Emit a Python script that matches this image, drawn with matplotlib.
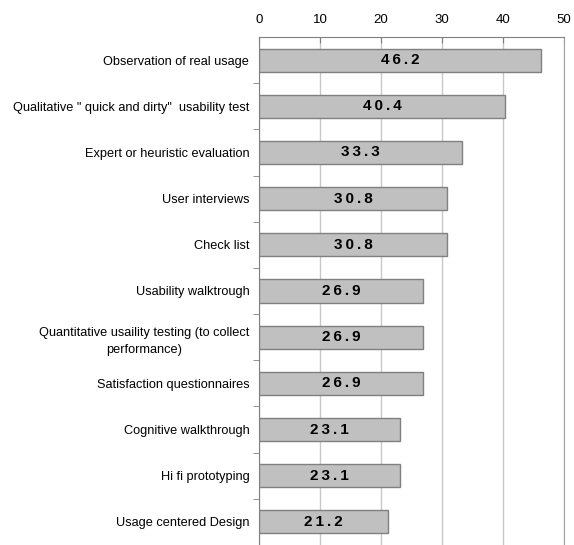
import matplotlib.pyplot as plt
import numpy as np

plt.rcParams['font.family'] = ['Liberation Sans', 'DejaVu Sans']

#Categories and percentages
methods = ["Observation of real usage",
           'Qualitative " quick and dirty"  usability test',
           "Expert or heuristic evaluation",
           "User interviews",
           "Check list",
           "Usability walktrough",
           "Quantitative usaility testing (to collect\nperformance)",
           "Satisfaction questionnaires",
           "Cognitive walkthrough",
           "Hi fi prototyping",
           "Usage centered Design"]
scores = [46.2, 40.4, 33.3, 30.8, 30.8, 26.9, 26.9, 26.9, 23.1, 23.1, 21.2]
xticks = [0, 10, 20, 30, 40, 50]

fig = plt.figure(figsize=(5.74, 5.45), dpi=100)
ax = fig.add_axes([259/574, 0.0, (564-259)/574, 1 - 37/545])

ypos = np.arange(len(methods))
ax.barh(ypos, scores, height=0.5, color='#c0c0c0', edgecolor='#808080',
        linewidth=1, zorder=3)

for y, v in zip(ypos, scores):
    ax.text(v/2, y, "\u2009".join(f"{v:.1f}"), ha='center', va='center',
            fontsize=11, fontweight='bold', color='black', zorder=4)

ax.set_xlim(0, 50)
ax.set_ylim(len(methods) - 0.5, -0.5)
ax.xaxis.tick_top()
ax.set_xticks(xticks)
ax.tick_params(axis='x', direction='in', length=4, color='#808080',
               labelsize=9.5, pad=8)
ax.grid(axis='x', color='#c8c8c8', linewidth=1, zorder=0)

ax.set_yticks(ypos)
ax.set_yticklabels(methods, fontsize=9.2, color='black')
for lbl in ax.get_yticklabels():
    lbl.set_multialignment('center')
    lbl.set_linespacing(1.6)
ax.tick_params(axis='y', which='major', length=0, pad=7)
ax.set_yticks(np.arange(len(methods)) + 0.5, minor=True)
ax.tick_params(axis='y', which='minor', length=4, color='#808080')

for s in ['top', 'left']:
    ax.spines[s].set_color('#808080')
ax.spines['right'].set_color('#a0a0a0')
ax.spines['bottom'].set_visible(False)

plt.savefig('out.png', dpi=100)
